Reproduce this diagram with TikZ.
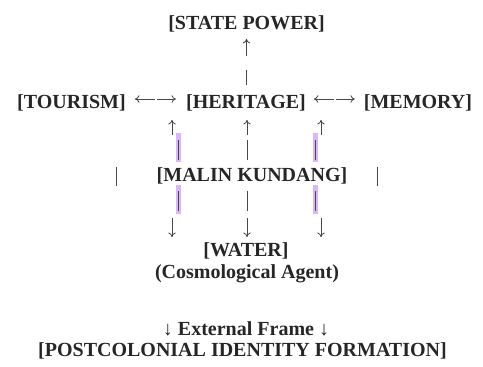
\documentclass[tikz,border=0pt]{standalone}
\usepackage{fontspec}
\setmainfont{Liberation Serif}
\usetikzlibrary{arrows.meta,calc}
\definecolor{inkgray}{HTML}{262626}
\definecolor{marklilac}{HTML}{D9B8F7}
\tikzset{
    lbl/.style={font=\bfseries\fontsize{20}{24}\selectfont, inner sep=0pt, text=inkgray},
    stem/.style={draw=inkgray!85, line width=1pt},
    arr/.style={draw=inkgray!85, line width=0.85pt, -{To[length=4.5pt,width=7.5pt]}},
    hilite/.style={fill=marklilac, draw=none},
    }

\begin{document}
\begin{tikzpicture}[x=1pt,y=-1pt]
	\useasboundingbox (0,0) rectangle (483,367);
	% text blocks
	\node[lbl] (state) at (246.5,23.5) {[STATE POWER]};
	\node[lbl] (tourism) at (71.5,102.5) {[TOURISM]};
	\node[lbl] (heritage) at (246,102.5) {[HERITAGE]};
	\node[lbl] (memory) at (418,102.5) {[MEMORY]};
	\node[lbl] (malin) at (252,176) {[MALIN KUNDANG]};
	\node[lbl] (water) at (246,251) {[WATER]};
	\node[lbl] (agent) at (247,274) {(Cosmological Agent)};
	\node[lbl] (frame) at (246,329) {↓ External Frame ↓};
	\node[lbl] (postcol) at (242.5,351) {[POSTCOLONIAL IDENTITY FORMATION]};
	% heritage up to state power
	\draw[stem] ([yshift=9.5pt]heritage.north) -- ++(0,-15);
	\draw[arr] ([yshift=-24pt]state.south) -- ([yshift=-7pt]state.south);
	% side links
	\coordinate (th) at ($(tourism.east)!.5!(heritage.west)$);
	\coordinate (hm) at ($(heritage.east)!.5!(memory.west)$);
	\foreach \m in {th,hm} {
		\draw[arr] ([xshift=-1pt,yshift=3.5pt]\m) -- ++(-20,0);
		\draw[arr] ([xshift=1pt,yshift=3.5pt]\m) -- ++(19,0);
	}
	% marked bars
	\foreach \bx in {175.7,312.7} {
		\fill[hilite] (\bx,133) rectangle ++(5.1,29);
		\fill[hilite] (\bx,185) rectangle ++(5.1,29);
	}
	% three columns through malin kundang
	\foreach \c/\ax/\bx in {l/172/178, m/247/247, r/321/315} {
		\coordinate (\c-up0) at (\ax,135);  \coordinate (\c-up1) at (\ax,120);
		\coordinate (\c-b0) at (\bx,140);   \coordinate (\c-b1) at (\bx,160);
		\coordinate (\c-b2) at (\bx,191);   \coordinate (\c-b3) at (\bx,211);
		\coordinate (\c-dn0) at (\ax,218);  \coordinate (\c-dn1) at (\ax,237);
		\draw[arr] (\c-up0) -- (\c-up1);
		\draw[stem] (\c-b0) -- (\c-b1);
		\draw[stem] (\c-b2) -- (\c-b3);
		\draw[arr] (\c-dn0) -- (\c-dn1);
	}
	% bars beside malin kundang
	\coordinate (lbar) at (116,167);
	\coordinate (rbar) at (377,167);
	\draw[stem] (lbar) -- ++(0,19);
	\draw[stem] (rbar) -- ++(0,19);
\end{tikzpicture}
\end{document}
